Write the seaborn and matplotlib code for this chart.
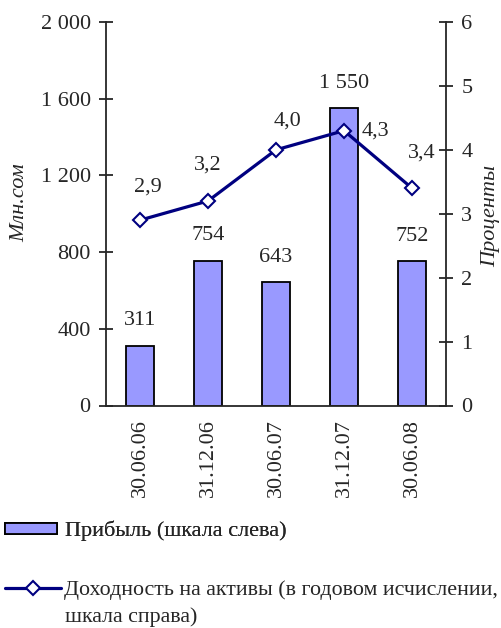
import numpy as np
import pandas as pd
import matplotlib
matplotlib.use("Agg")
import matplotlib.pyplot as plt
import seaborn as sns
from matplotlib.patches import Patch
from matplotlib.lines import Line2D

# ---- data ----
dates = ["30.06.06", "31.12.06", "30.06.07", "31.12.07", "30.06.08"]
profit = [311, 754, 643, 1550, 752]          # млн сом (left axis)
roa = [2.9, 3.2, 4.0, 4.3, 3.4]              # % (right axis)
left_ticks = [0, 400, 800, 1200, 1600, 2000]
left_tick_labels = ["0", "400", "800", "1 200", "1 600", "2 000"]
right_ticks = [0, 1, 2, 3, 4, 5, 6]

sns.set_theme(style="white")
plt.rcParams["font.family"] = ["Liberation Serif", "DejaVu Serif"]
plt.rcParams["axes.linewidth"] = 1.3

BAR = "#9999FF"
LINE = "#000080"
FS = 16

fig = plt.figure(figsize=(5.01, 6.28), dpi=100)
ax = fig.add_axes([106/501, 1-405.5/628, (446-106)/501, (405.5-22)/628])

df = pd.DataFrame({"date": dates, "profit": profit, "roa": roa})
sns.barplot(data=df, x="date", y="profit", color=BAR, saturation=1,
            width=0.41, edgecolor="black", linewidth=1.3, ax=ax)

ax.set_ylim(0, 2000)
ax.set_xlim(-0.5, 4.5)
ax.set_yticks(left_ticks)
ax.set_yticklabels(left_tick_labels, fontsize=FS)
ax.set_xticks(np.arange(-0.5, 5.0, 1.0))
ax.set_xticklabels([])
ax.set_xticks(range(len(dates)), minor=True)
ax.set_xticklabels(dates, minor=True, rotation=90, fontsize=FS)
ax.tick_params(axis="x", which="minor", length=0, pad=10)
ax.tick_params(axis="x", which="major", direction="inout", length=10, width=1.3)
ax.tick_params(axis="y", direction="inout", length=10, width=1.3, pad=6)
ax.set_xlabel("")
ax.set_ylabel("Млн.сом", fontsize=FS, fontstyle="italic", labelpad=8)
ax.yaxis.label.set_y(0.528)
for s in ["top", "right"]:
    ax.spines[s].set_visible(False)

for i, v in enumerate(profit):
    ax.annotate(f"{v:,}".replace(",", " "), (i, v), xytext=(0, 25),
                textcoords="offset pixels", ha="center", va="center", fontsize=FS)

ax2 = ax.twinx()
sns.lineplot(x=np.arange(len(roa)), y=roa, ax=ax2, color=LINE, linewidth=2.3,
             marker="D", markersize=7, markerfacecolor="white",
             markeredgecolor=LINE, markeredgewidth=1.5)
ax2.set_ylim(0, 6)
ax2.set_xlim(-0.5, 4.5)
ax2.set_yticks(right_ticks)
ax2.set_yticklabels([str(t) for t in right_ticks], fontsize=FS)
ax2.tick_params(axis="y", direction="inout", length=10, width=1.3, pad=6)
ax2.set_ylabel("Проценты", fontsize=FS, fontstyle="italic", labelpad=6)
ax2.yaxis.label.set_y(0.494)
for s in ["top", "left", "bottom"]:
    ax2.spines[s].set_visible(False)
ax2.spines["right"].set_linewidth(1.3)

offsets = [(8, 33), (0, 36), (12, 29), (31, 0), (10, 35)]
for i, (v, off) in enumerate(zip(roa, offsets)):
    ax2.annotate(f"{v:.1f}".replace(".", ","), (i, v), xytext=off,
                 textcoords="offset pixels", ha="center", va="center", fontsize=FS)

# ---- legend ----
h1 = Patch(facecolor=BAR, edgecolor="black", linewidth=1.3)
h2 = Line2D([], [], color=LINE, linewidth=2.3, marker="D", markersize=7,
            markerfacecolor="white", markeredgecolor=LINE, markeredgewidth=1.5)
leg1 = fig.legend([h1], ["Прибыль (шкала слева)"], loc="center left",
                  bbox_to_anchor=(5/501, 1-531/628), frameon=False, fontsize=FS,
                  handlelength=2.35, handleheight=0.4, handletextpad=0.35,
                  borderaxespad=0, borderpad=0)
leg2 = fig.legend([h2], ["Доходность на активы (в годовом исчислении,"],
                  loc="center left", bbox_to_anchor=(5/501, 1-590/628),
                  frameon=False, fontsize=15.8, handlelength=2.55,
                  handletextpad=0.15, borderaxespad=0, borderpad=0)
fig.add_artist(leg1)
fig.text(65/501, 1-617/628, "шкала справа)", fontsize=15.8, va="center", ha="left")

fig.savefig("out.png", dpi=100)
